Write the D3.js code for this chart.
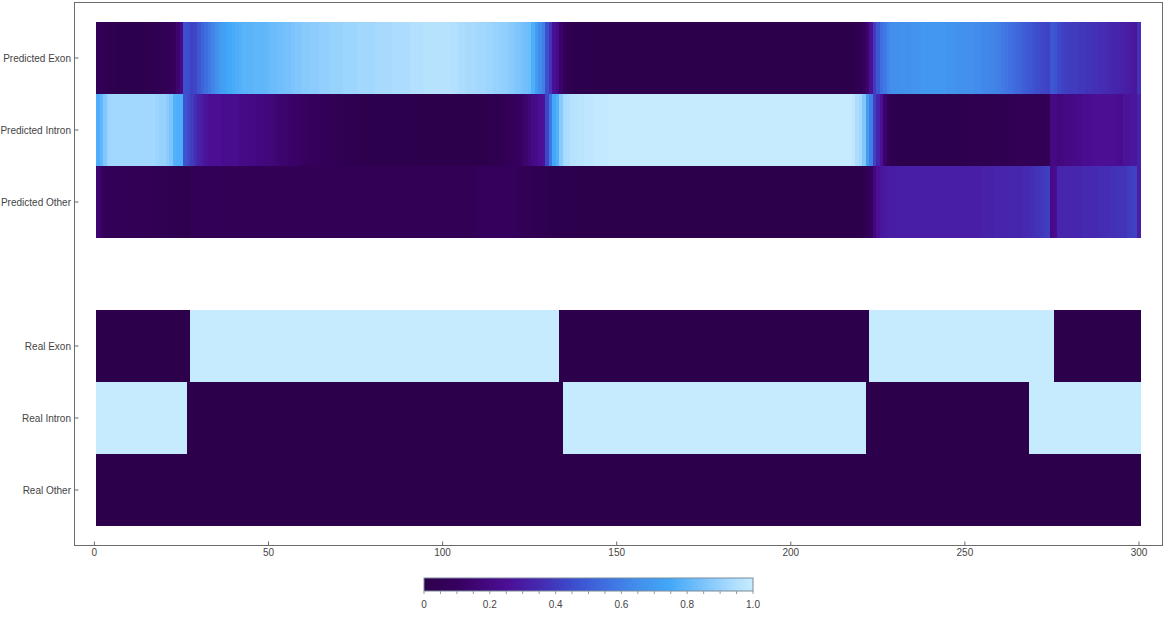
<!DOCTYPE html>
<html><head><meta charset="utf-8">
<script src="https://cdn.jsdelivr.net/npm/d3@7"></script>
<style>body{margin:0;background:#fff;} svg{display:block;font-family:"Liberation Sans",Arial,sans-serif;}</style>
</head><body>
<svg id="chart" width="1164" height="619"></svg>
<script>
// Row labels (top to bottom); a blank row separates predicted and real
const rowLabels = ["Predicted Exon","Predicted Intron","Predicted Other","","Real Exon","Real Intron","Real Other"];
const xTicks = [0,50,100,150,200,250,300];
const legendTicks = [0,0.2,0.4,0.6,0.8,1.0];
const legendTickLabels = ["0","0.2","0.4","0.6","0.8","1.0"];

// Predicted probabilities, one value per position 1..300
const predictedExon = [
.06,.05,.04,.03,.02,.02,.01,.01,.01,.01, .01,.01,.01,.01,.02,.02,.03,.03,.04,.05,
.06,.07,.10,.15,.22,.46,.45,.42,.43,.48, .52,.55,.58,.62,.65,.68,.71,.73,.75,.76,
.77,.78,.79,.79,.79,.80,.80,.80,.80,.81, .82,.82,.83,.83,.84,.84,.85,.86,.86,.87,
.87,.88,.88,.88,.89,.89,.89,.90,.90,.90, .90,.91,.91,.91,.91,.92,.92,.92,.92,.92,
.93,.93,.93,.93,.93,.94,.94,.94,.94,.94, .95,.95,.95,.95,.96,.96,.96,.96,.96,.96,
.96,.96,.95,.95,.94,.94,.93,.93,.93,.92, .92,.92,.91,.91,.90,.90,.89,.89,.88,.87,
.86,.85,.84,.83,.82,.77,.70,.64,.60,.46, .38,.26,.22,.13,.06,.03,.02,.01,.01,.01,
.01,.01,.01,.01,.01,0,0,0,0,0, 0,0,0,0,0,0,0,0,0,0,
0,0,0,0,0,0,0,0,0,0, 0,0,0,0,0,0,0,0,0,0,
0,0,0,0,0,0,0,0,0,0, 0,0,0,0,0,0,0,0,0,0,
0,0,0,0,0,0,0,0,0,0,
0,0,0,0,0,0,0,.01,.02,.04, .10,.14,.25,.40,.48,.55,.58,.63,.65,.65,
.65,.66,.66,.66,.67,.67,.67,.68,.68,.68, .68,.68,.68,.68,.67,.67,.67,.66,.66,.66,
.65,.65,.64,.64,.63,.63,.62,.62,.61,.60, .58,.57,.56,.55,.53,.52,.50,.49,.48,.46,
.45,.44,.43,.42,.48,.47,.44,.42,.41,.40, .40,.40,.39,.39,.38,.38,.37,.37,.36,.36,
.35,.34,.33,.33,.32,.31,.30,.29,.28,.37
];
const predictedIntron = [
.77,.80,.86,.91,.92,.92,.92,.92,.92,.92, .92,.92,.92,.92,.92,.92,.92,.91,.90,.90,
.88,.85,.78,.77,.77,.47,.44,.40,.36,.32, .29,.27,.25,.25,.25,.25,.23,.23,.23,.23,
.23,.21,.21,.20,.20,.20,.19,.19,.18,.18, .17,.16,.15,.14,.14,.13,.12,.12,.11,.10,
.09,.08,.08,.07,.07,.06,.06,.05,.05,.04, .04,.03,.03,.03,.02,.02,.01,.01,.01,.01,
.01,.01,.01,.01,.01,.01,.01,.01,.01,.01, .01,.01,0,0,0,0,0,0,0,0,
0,0,0,0,0,0,0,.01,.01,.01, .01,.01,.02,.02,.03,.03,.04,.05,.06,.07,
.08,.10,.12,.14,.17,.20,.22,.25,.27,.43, .57,.75,.78,.87,.93,.94,.96,.96,.97,.97,
.98,.98,.98,.99,.99,.99,.99,1,1,1, 1,1,1,1,1,1,1,1,1,1,
1,1,1,1,1,1,1,1,1,1, 1,1,1,1,1,1,1,1,1,1,
1,1,1,1,1,1,1,1,1,1, 1,1,1,1,1,1,1,1,1,1,
1,1,1,1,1,1,1,1,1,1,
1,1,1,1,1,1,1,.98,.94,.92, .86,.70,.60,.42,.33,.26,.13,.05,.03,.02,
.01,.01,.01,.01,.01,.01,.01,.01,.01,.01, .01,.01,.01,.01,.01,.01,.01,.01,.01,.01,
.02,.02,.02,.02,.02,.02,.02,.02,.03,.03, .03,.03,.04,.04,.05,.05,.05,.05,.05,.05,
.05,.05,.05,.05,.20,.20,.19,.19,.20,.20, .21,.22,.22,.23,.24,.24,.25,.25,.25,.25,
.25,.25,.25,.24,.23,.27,.27,.28,.28,.32
];
const predictedOther = [
.15,.12,.06,.06,.06,.06,.06,.05,.05,.05, .05,.05,.05,.05,.05,.05,.04,.04,.04,.04,
.03,.03,.03,.02,.02,.01,.01,.05,.06,.06, .06,.06,.06,.06,.06,.06,.06,.05,.05,.05,
.05,.05,.05,.05,.05,.05,.05,.05,.05,.05, .05,.05,.05,.05,.05,.05,.05,.05,.05,.05,
.05,.05,.05,.05,.05,.05,.05,.05,.05,.05, .05,.05,.05,.05,.05,.05,.05,.05,.05,.05,
.05,.05,.05,.05,.05,.05,.05,.05,.05,.05, .05,.05,.05,.05,.05,.05,.05,.05,.05,.05,
.05,.05,.05,.05,.05,.05,.05,.05,.06,.07, .08,.08,.08,.08,.08,.08,.08,.08,.08,.08,
.08,.06,.06,.05,.05,.04,.04,.03,.03,.02, .01,.01,.01,.01,.01,.01,.01,.01,.01,.01,
0,0,0,0,0,0,0,0,0,0, 0,0,0,0,0,0,0,0,0,0,
0,0,0,0,0,0,0,0,0,0, 0,0,0,0,0,0,0,0,0,0,
0,0,0,0,0,0,0,0,0,0, 0,0,0,0,0,0,0,0,0,0,
0,0,0,0,0,0,0,0,0,0,
0,0,0,0,0,0,0,0,0,0, .03,.06,.10,.18,.25,.28,.29,.30,.30,.31,
.31,.31,.31,.31,.31,.31,.31,.31,.31,.31, .31,.31,.31,.31,.31,.31,.31,.31,.31,.31,
.31,.31,.31,.31,.32,.32,.32,.32,.33,.33, .33,.33,.34,.34,.34,.34,.35,.35,.36,.37,
.38,.39,.40,.41,.22,.24,.33,.33,.34,.34, .34,.34,.34,.35,.35,.35,.35,.35,.36,.36,
.36,.37,.37,.38,.38,.38,.40,.41,.42,.31
];
// Real annotations as [first, last] position runs with value 1 (everything else 0)
const realExonRuns = [[28,133],[223,275]];
const realIntronRuns = [[1,26],[135,221],[269,300]];
const realOtherRuns = [];
const nPositions = 300;

// Colour gradient stops
const colorStops = [0,0.1,0.25,0.35,0.45,0.55,0.65,0.75,0.85,0.95,1];
const colorValues = ["#2c004b","#37005f","#4b0e95","#4529b0","#3c4ccc","#3f6ee0","#428fec","#42a9f8","#7cc4fb","#b2e0fe","#c6ebff"];

const color = d3.scaleLinear().domain(colorStops).range(colorValues).clamp(true);

function runsToArray(runs){
  const a = new Array(nPositions).fill(0);
  runs.forEach(([s,e])=>{for(let i=s;i<=e;i++) a[i-1]=1;});
  return a;
}
const rows = [predictedExon, predictedIntron, predictedOther, null,
  runsToArray(realExonRuns), runsToArray(realIntronRuns), runsToArray(realOtherRuns)];

const svg = d3.select("#chart");
const frame = {left:74.5, top:2.5, right:1162.5, bottom:545.5};
const x = d3.scaleLinear().domain([0,300]).range([94.4,1139]);
const y = d3.scaleBand().domain(d3.range(rowLabels.length)).range([22,526]).padding(0);

const g = svg.append("g");
rows.forEach((vals,r)=>{
  if(!vals) return;
  g.selectAll(null).data(vals).enter().append("rect")
    .attr("x",(d,i)=>x(i+0.5))
    .attr("y",y(r))
    .attr("width",(d,i)=>x(i+1.5)-x(i+0.5)+(i<nPositions-1?0.6:0))
    .attr("height",y.bandwidth())
    .attr("fill",d=>color(d))
    .attr("shape-rendering","crispEdges");
});

// frame
svg.append("rect").attr("x",frame.left).attr("y",frame.top)
  .attr("width",frame.right-frame.left).attr("height",frame.bottom-frame.top)
  .attr("fill","none").attr("stroke","#6b6b6b").attr("stroke-width",1);

// bottom axis ticks
const lc = "#444";
xTicks.forEach(t=>{
  svg.append("line").attr("x1",x(t)).attr("x2",x(t)).attr("y1",frame.bottom).attr("y2",frame.bottom-4)
    .attr("stroke","#6b6b6b");
  svg.append("text").attr("x",x(t)).attr("y",556).attr("text-anchor","middle")
    .attr("font-size",10).attr("fill",lc).text(t);
});
// left labels
rowLabels.forEach((lab,r)=>{
  if(!lab) return;
  const cy = y(r)+y.bandwidth()/2;
  svg.append("line").attr("x1",frame.left).attr("x2",frame.left+4).attr("y1",cy).attr("y2",cy).attr("stroke","#6b6b6b");
  svg.append("text").attr("x",71).attr("y",cy+3.5).attr("text-anchor","end")
    .attr("font-size",10).attr("fill",lc).text(lab);
});

// legend colour bar
const lx = d3.scaleLinear().domain([0,1]).range([424,753]);
const defs = svg.append("defs");
const grad = defs.append("linearGradient").attr("id","cb");
colorStops.forEach((s,i)=>grad.append("stop").attr("offset",s).attr("stop-color",colorValues[i]));
svg.append("rect").attr("x",lx(0)).attr("y",578).attr("width",lx(1)-lx(0)).attr("height",13)
  .attr("fill","url(#cb)").attr("stroke","#7a8a99").attr("stroke-width",1);
d3.range(0,1.0001,0.05).forEach(t=>{
  svg.append("line").attr("x1",lx(t)).attr("x2",lx(t)).attr("y1",591).attr("y2",594).attr("stroke","#999");
});
legendTicks.forEach((t,i)=>{
  svg.append("text").attr("x",lx(t)).attr("y",608).attr("text-anchor","middle")
    .attr("font-size",10).attr("fill",lc).text(legendTickLabels[i]);
});
</script>
</body></html>
